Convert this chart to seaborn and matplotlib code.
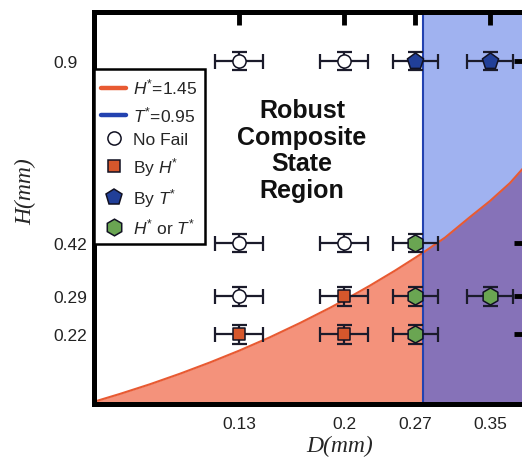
import numpy as np
import pandas as pd
import matplotlib
matplotlib.use("Agg")
import matplotlib.pyplot as plt
from matplotlib.lines import Line2D
import seaborn as sns

# ---------------- data ----------------
D_TICKS = [0.13, 0.2, 0.27, 0.35]
H_TICKS = [0.22, 0.29, 0.42, 0.9]
D_TICK_LABELS = ["0.13", "0.2", "0.27", "0.35"]
H_TICK_LABELS = ["0.22", "0.29", "0.42", "0.9"]

D_VALS = [0.13, 0.2, 0.27, 0.35, 0.13, 0.2, 0.27, 0.13, 0.2, 0.27, 0.35, 0.13, 0.2, 0.27]
H_VALS = [0.9, 0.9, 0.9, 0.9, 0.42, 0.42, 0.42, 0.29, 0.29, 0.29, 0.29, 0.22, 0.22, 0.22]
STATUS = ["No Fail", "No Fail", "By T*", "By T*",
          "No Fail", "No Fail", "H* or T*",
          "No Fail", "By H*", "H* or T*", "H* or T*",
          "By H*", "By H*", "H* or T*"]
D_ERR_LO = {0.13: 0.0157, 0.2: 0.0157, 0.27: 0.0217, 0.35: 0.0245}
D_ERR_HI = {0.13: 0.0157, 0.2: 0.0232, 0.27: 0.0245, 0.35: 0.0245}
H_ERR_LO = {0.22: 0.0175, 0.29: 0.0175, 0.42: 0.0233, 0.9: 0.025}
H_ERR_HI = {0.22: 0.0175, 0.29: 0.0233, 0.42: 0.025, 0.9: 0.025}

# H* = 1.45 boundary curve
CURVE_D = [0.0327, 0.0507, 0.0707, 0.0907, 0.1107, 0.13, 0.1507, 0.1707, 0.1907,
           0.2, 0.2256, 0.2503, 0.27, 0.2785, 0.302, 0.3287, 0.35, 0.3713, 0.3884]
CURVE_H = [0.0947, 0.1097, 0.1275, 0.1469, 0.1677, 0.1892, 0.2141, 0.2403, 0.2683,
           0.2821, 0.3155, 0.3523, 0.3835, 0.3962, 0.4342, 0.4886, 0.5308, 0.5782, 0.6257]
# T* = 0.95 boundary
D_T = 0.2785

# ---------------- style ----------------
sns.set_theme(style="white")
plt.rcParams["font.family"] = ["Liberation Sans", "DejaVu Sans"]
plt.rcParams["mathtext.fontset"] = "custom"
plt.rcParams["mathtext.rm"] = "Liberation Sans"
plt.rcParams["mathtext.it"] = "Liberation Sans:italic"
plt.rcParams["mathtext.bf"] = "Liberation Sans:bold"

C_FILL_H = "#f4927b"
C_LINE_H = "#e85a32"
C_FILL_T = "#a0b2f0"
C_FILL_HT = "#8672b8"
C_LINE_T = "#2342b0"
C_ERR = "#1b1b2b"
MARKERS = {"No Fail": ("o", "white", 90),
           "By H*": ("s", "#d6572c", 85),
           "By T*": ("p", "#213f98", 150),
           "H* or T*": ("h", "#6aa552", 150)}

# nonlinear axis layout (tick positions in the original figure)
D_TICK_POS = [239, 344, 415, 490]
H_TICK_POS = [-335, -297, -244, -62]


def piecewise(xs, ys):
    xs = np.asarray(xs, float)
    ys = np.asarray(ys, float)
    s0 = (ys[1] - ys[0]) / (xs[1] - xs[0])
    s1 = (ys[-1] - ys[-2]) / (xs[-1] - xs[-2])

    def f(v):
        v = np.asarray(v, float)
        out = np.interp(v, xs, ys)
        out = np.where(v < xs[0], ys[0] + (v - xs[0]) * s0, out)
        out = np.where(v > xs[-1], ys[-1] + (v - xs[-1]) * s1, out)
        return out
    return f


fx, ix = piecewise(D_TICKS, D_TICK_POS), piecewise(D_TICK_POS, D_TICKS)
fy, iy = piecewise(H_TICKS, H_TICK_POS), piecewise(H_TICK_POS, H_TICKS)

W, H = 522, 464
fig = plt.figure(figsize=(W / 100, H / 100), dpi=100)
left_px, right_px, top_px, bot_px = 93.5, 526, 12.5, 405
ax = fig.add_axes([left_px / W, 1 - bot_px / H, (right_px - left_px) / W, (bot_px - top_px) / H])
ax.set_xscale("function", functions=(fx, ix))
ax.set_yscale("function", functions=(fy, iy))
xmin, xmax = float(ix(left_px)), float(ix(right_px))
ymin, ymax = float(iy(-bot_px)), float(iy(-top_px))
ax.set_xlim(xmin, xmax)
ax.set_ylim(ymin, ymax)

# regions
cd = np.array(CURVE_D)
ch = np.array(CURVE_H)
ax.axvspan(D_T, xmax, color=C_FILL_T, lw=0, zorder=0.2)
ax.fill_between(cd, ymin, ch, where=cd <= D_T + 1e-9, color=C_FILL_H, lw=0, zorder=0.4)
ax.fill_between(cd, ymin, ch, where=cd >= D_T - 1e-9, color=C_FILL_HT, lw=0, zorder=0.4)
ax.plot(cd, ch, color=C_LINE_H, lw=1.5, zorder=1)
ax.axvline(D_T, color=C_LINE_T, lw=1.5, zorder=1)

df = pd.DataFrame({"D": D_VALS, "H": H_VALS, "status": STATUS})
xerr = np.array([[D_ERR_LO[d] for d in D_VALS], [D_ERR_HI[d] for d in D_VALS]])
yerr = np.array([[H_ERR_LO[h] for h in H_VALS], [H_ERR_HI[h] for h in H_VALS]])
ax.errorbar(df["D"], df["H"], xerr=xerr, yerr=yerr, fmt="none", ecolor=C_ERR,
            elinewidth=1.6, capsize=5.4, capthick=1.6, zorder=2)

for name, (mk, col, s) in MARKERS.items():
    sub = df[df["status"] == name]
    sns.scatterplot(data=sub, x="D", y="H", marker=mk, color=col, s=s,
                    edgecolor="#111122", linewidth=1.1, ax=ax, zorder=3, legend=False)

# ticks & spines
ax.set_xticks(D_TICKS)
ax.set_xticklabels(D_TICK_LABELS)
ax.set_yticks(H_TICKS)
ax.set_yticklabels(H_TICK_LABELS)
ax.minorticks_off()
ax.tick_params(axis="both", which="major", direction="in", length=9, width=3.5,
               color="black", top=True, right=True, labelsize=12.5, labelcolor="#222222")
ax.tick_params(axis="x", pad=9)
ax.tick_params(axis="y", pad=29)
for lab in ax.get_yticklabels():
    lab.set_horizontalalignment("left")
for sp in ax.spines.values():
    sp.set_linewidth(3.6)
    sp.set_color("black")
    sp.set_visible(True)

ax.set_xlabel("D(mm)", fontsize=17, fontstyle="italic", family="Liberation Serif")
ax.set_ylabel("H(mm)", fontsize=17, fontstyle="italic", family="Liberation Serif")
ax.xaxis.set_label_coords((340 - left_px) / (right_px - left_px), (bot_px - 436) / (bot_px - top_px))
ax.yaxis.set_label_coords((36 - left_px) / (right_px - left_px), (bot_px - 192) / (bot_px - top_px))

ax.text((302 - left_px) / (right_px - left_px), (bot_px - 151) / (bot_px - top_px),
        "Robust\nComposite\nState\nRegion", transform=ax.transAxes, ha="center",
        va="center", multialignment="center", fontsize=18, fontweight="bold",
        color="#111111", linespacing=1.15, zorder=4)

handles = [
    Line2D([], [], color=C_LINE_H, lw=3.2),
    Line2D([], [], color=C_LINE_T, lw=3.2),
    Line2D([], [], ls="none", marker="o", markerfacecolor="white", markeredgecolor="#111122", markersize=9.5, markeredgewidth=1.1),
    Line2D([], [], ls="none", marker="s", markerfacecolor=MARKERS["By H*"][1], markeredgecolor="#111122", markersize=9.2, markeredgewidth=1.1),
    Line2D([], [], ls="none", marker="p", markerfacecolor=MARKERS["By T*"][1], markeredgecolor="#111122", markersize=12, markeredgewidth=1.1),
    Line2D([], [], ls="none", marker="h", markerfacecolor=MARKERS["H* or T*"][1], markeredgecolor="#111122", markersize=12, markeredgewidth=1.1),
]
labels = ["$H^{*}$=1.45", "$T^{*}$=0.95", "No Fail", "By $H^{*}$", "By $T^{*}$", "$H^{*}$ or $T^{*}$"]
leg = ax.legend(handles, labels, loc="upper left",
                bbox_to_anchor=(0, (bot_px - 70) / (bot_px - top_px)),
                borderaxespad=0, fontsize=12.5, frameon=True, fancybox=False,
                handlelength=1.45, handletextpad=0.4, labelspacing=0.45,
                borderpad=0.45, edgecolor="black", framealpha=1)
leg.get_frame().set_linewidth(1.8)
leg.set_zorder(5)

fig.savefig("out.png", dpi=100)
